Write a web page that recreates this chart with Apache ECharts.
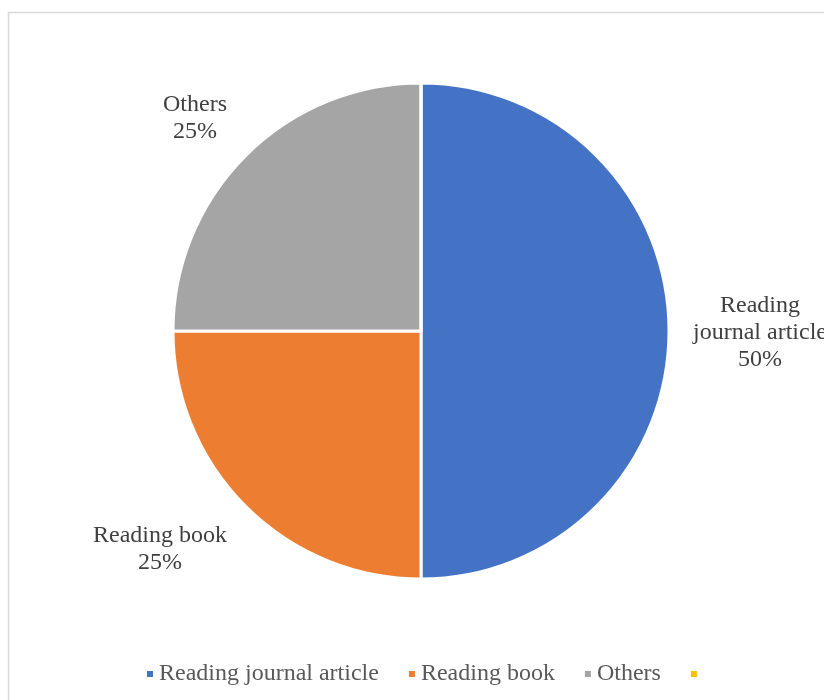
<!DOCTYPE html>
<html>
<head>
<meta charset="utf-8">
<script src="https://cdn.jsdelivr.net/npm/echarts@6/dist/echarts.min.js"></script>
<style>
  html, body { margin: 0; padding: 0; background: #fff; }
  #main { width: 824px; height: 700px; }
</style>
</head>
<body>
<div id="main"></div>
<script>
  // data
  const names = ['Reading journal article', 'Reading book', 'Others', ' ']
  const shares = [50, 25, 25, 0]
  const colors = ['#4472c4', '#ed7d31', '#a5a5a5', '#ffc000']
  const labelText = ['Reading\njournal article\n50%', 'Reading book\n25%', 'Others\n25%', '']

  // where the data labels sit (centre of the text block)
  const labelPos = [[760, 333], [160, 549], [195, 118], [0, 0]]

  let chart = echarts.init(document.getElementById('main'))

  let pieData = names.map((n, i) => ({
    name: n,
    value: shares[i],
    itemStyle: { color: colors[i] },
    label: { show: i < 3, formatter: labelText[i] }
  }))

  let option = {
    animation: false,
    textStyle: { fontFamily: 'Liberation Serif' },
    graphic: [{
      type: 'rect',
      shape: { x: 8.5, y: 12.5, width: 900, height: 800 },
      style: { fill: 'none', stroke: '#d9d9d9', lineWidth: 1.5 },
      silent: true
    }],
    legend: {
      top: 657,
      left: 140,
      itemWidth: 8,
      itemHeight: 8,
      itemGap: 28,
      icon: 'rect',
      data: names,
      textStyle: { fontFamily: 'Liberation Serif', fontSize: 24, color: '#595959' }
    },
    series: [{
      type: 'pie',
      center: [421, 331],
      radius: 248,
      startAngle: 90,
      clockwise: true,
      avoidLabelOverlap: false,
      itemStyle: { borderColor: '#fff', borderWidth: 3 },
      label: {
        position: 'outside',
        fontFamily: 'Liberation Serif',
        fontSize: 24,
        lineHeight: 27,
        color: '#404040',
        align: 'center'
      },
      labelLine: { show: false },
      labelLayout: (params) => {
        let p = labelPos[params.dataIndex]
        return { x: p[0], y: p[1], align: 'center', verticalAlign: 'middle' }
      },
      emphasis: { disabled: true },
      data: pieData
    }]
  }

  chart.setOption(option)
</script>
</body>
</html>
